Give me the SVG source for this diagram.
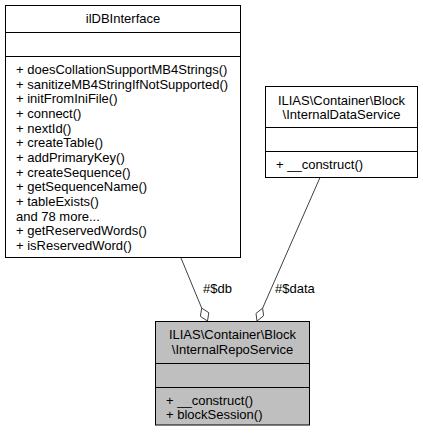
<svg xmlns="http://www.w3.org/2000/svg" width="423" height="433" viewBox="0 0 423 433">
<style>
text{font-family:"Liberation Sans",Arial,sans-serif;font-size:13px;fill:#000}
.t{text-anchor:middle}
.box{fill:#fff;stroke:#000;stroke-width:1}
.cur{fill:#bfbfbf;stroke:#000;stroke-width:1}
.sep{stroke:#000;stroke-width:1}
.edge{fill:none;stroke:#404040;stroke-width:1}
.dia{fill:#fff;stroke:#404040;stroke-width:1}
</style>
<rect width="423" height="433" fill="#fff"/>
<g id="connectors">
<path class="edge" d="M181,258 L201.7,308.1"/>
<polygon class="dia" points="201.7,308.1 200.4,316.4 207.5,321 208.8,312.7"/>
<text x="203" y="293">#$db</text>
<path class="edge" d="M320,177.5 L262.6,308.2"/>
<polygon class="dia" points="262.6,308.2 256,313.4 257,321 263.6,315.8"/>
<text x="275" y="293">#$data</text>
</g>
<g id="ilDBInterface">
<rect class="box" x="5.5" y="5.5" width="235" height="252"/>
<line class="sep" x1="5.5" y1="32.5" x2="240.5" y2="32.5"/>
<line class="sep" x1="5.5" y1="56.5" x2="240.5" y2="56.5"/>
<text class="t" x="123" y="23">ilDBInterface</text>
<text x="16" y="74">+ doesCollationSupportMB4Strings()</text>
<text x="16" y="88.67">+ sanitizeMB4StringIfNotSupported()</text>
<text x="16" y="103.33">+ initFromIniFile()</text>
<text x="16" y="118">+ connect()</text>
<text x="16" y="132.67">+ nextId()</text>
<text x="16" y="147.33">+ createTable()</text>
<text x="16" y="162">+ addPrimaryKey()</text>
<text x="16" y="176.67">+ createSequence()</text>
<text x="16" y="191.33">+ getSequenceName()</text>
<text x="16" y="206">+ tableExists()</text>
<text x="16" y="220.67">and 78 more...</text>
<text x="16" y="235.33">+ getReservedWords()</text>
<text x="16" y="250">+ isReservedWord()</text>
</g>
<g id="InternalDataService">
<rect class="box" x="265.5" y="86.5" width="152" height="91"/>
<line class="sep" x1="265.5" y1="127.5" x2="417.5" y2="127.5"/>
<line class="sep" x1="265.5" y1="151.5" x2="417.5" y2="151.5"/>
<text class="t" x="341.5" y="104.5">ILIAS\Container\Block</text>
<text class="t" x="341.5" y="119.2">\InternalDataService</text>
<text x="276" y="169">+ __construct()</text>
</g>
<g id="InternalRepoService">
<rect class="cur" x="155.5" y="321.5" width="154" height="103.5"/>
<line class="sep" x1="155.5" y1="363.5" x2="309.5" y2="363.5"/>
<line class="sep" x1="155.5" y1="387.5" x2="309.5" y2="387.5"/>
<text class="t" x="232.5" y="339">ILIAS\Container\Block</text>
<text class="t" x="232.5" y="353.7">\InternalRepoService</text>
<text x="166" y="404.5">+ __construct()</text>
<text x="166" y="419.2">+ blockSession()</text>
</g>
</svg>
